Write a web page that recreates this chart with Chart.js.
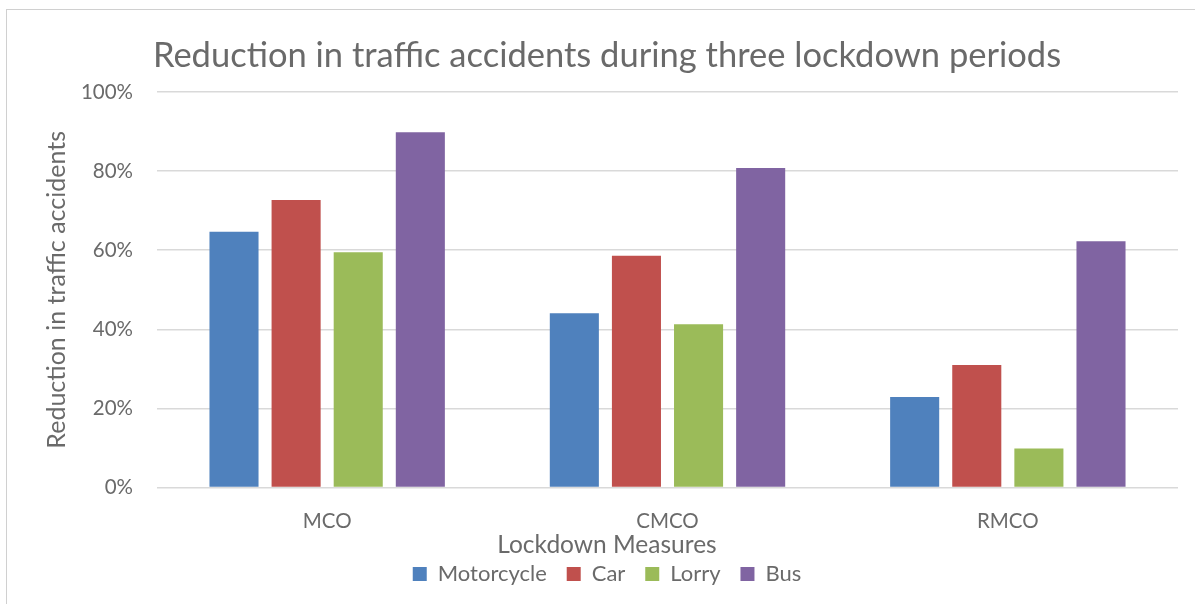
<!DOCTYPE html>
<html>
<head>
<meta charset="utf-8">
<script src="https://cdn.jsdelivr.net/npm/chart.js@4"></script>
<style>
  html, body { margin: 0; padding: 0; background: #fff; }
  #wrap { position: relative; width: 1195px; height: 604px; overflow: hidden; }
  #frame { position: absolute; left: 6px; top: 9px; width: 1300px; height: 700px;
           border-left: 1px solid #d0d0d0; border-top: 1px solid #d0d0d0; }
  canvas { position: absolute; left: 0; top: 0; }
</style>
</head>
<body>
<div id="wrap">
  <div id="frame"></div>
  <canvas id="c" width="1195" height="604"></canvas>
</div>
<script>
const categories = ["MCO", "CMCO", "RMCO"];
const seriesNames = ["Motorcycle", "Car", "Lorry", "Bus"];
const motorcycle = [64.7, 44.1, 22.9];
const car = [72.7, 58.6, 31.0];
const lorry = [59.5, 41.3, 9.9];
const bus = [89.8, 80.8, 62.3];
const yTickValues = [0, 20, 40, 60, 80, 100];
const colors = ["#4f81bd", "#c0504d", "#9bbb59", "#8064a2"];

const FONT = "Lato, 'Open Sans', sans-serif";
const TEXT = "#6a6a6a";

const seriesValues = [motorcycle, car, lorry, bus];

new Chart(document.getElementById("c"), {
  type: "bar",
  data: {
    labels: categories,
    datasets: seriesNames.map((name, i) => ({
      label: name,
      data: seriesValues[i],
      backgroundColor: colors[i],
      borderWidth: 0,
      categoryPercentage: 0.73,
      barPercentage: 0.79
    }))
  },
  options: {
    responsive: false,
    animation: false,
    devicePixelRatio: 1,
    layout: { padding: { left: 36, right: 17, top: 0, bottom: 9 } },
    plugins: {
      title: {
        display: true,
        text: "Reduction in traffic accidents during three lockdown periods",
        color: TEXT,
        font: { family: FONT, size: 34.5, weight: "normal", lineHeight: 1.2 },
        padding: { top: 35, bottom: 15.6 }
      },
      subtitle: {
        display: true,
        position: "bottom",
        weight: 500,
        text: "Lockdown Measures",
        color: TEXT,
        font: { family: FONT, size: 24.5, weight: "normal", lineHeight: 1.2 },
        padding: { top: 0, bottom: 0 }
      },
      legend: {
        position: "bottom",
        weight: 1000,
        labels: {
          color: TEXT,
          font: { family: FONT, size: 22 },
          boxWidth: 14,
          boxHeight: 14,
          padding: 3,
          generateLabels: (chart) => {
            const items = Chart.defaults.plugins.legend.labels.generateLabels(chart);
            items.forEach((it, i) => {
              if (i < items.length - 1) it.text = it.text + "   ";
              it.lineWidth = 0;
            });
            return items;
          }
        }
      },
      tooltip: { enabled: false }
    },
    scales: {
      x: {
        grid: { display: false, drawTicks: false },
        border: { display: false },
        ticks: {
          color: TEXT,
          font: { family: FONT, size: 20.5 },
          padding: 21
        },
        afterFit: (s) => { s.height = 43; }
      },
      y: {
        min: 0,
        max: 100,
        afterBuildTicks: (s) => { s.ticks = yTickValues.map(v => ({ value: v })); },
        grid: { color: "#d9d9d9", lineWidth: 1.5, drawTicks: false },
        border: { display: false },
        ticks: {
          color: TEXT,
          font: { family: FONT, size: 20.5 },
          padding: 24,
          callback: (v) => v + "%"
        },
        title: {
          display: true,
          text: "Reduction in traffic accidents",
          color: TEXT,
          font: { family: FONT, size: 25, weight: "normal", lineHeight: 1.2 },
          padding: { top: 6, bottom: 0 }
        },
        afterFit: (s) => { s.width = 121; }
      }
    }
  }
});
</script>
</body>
</html>
